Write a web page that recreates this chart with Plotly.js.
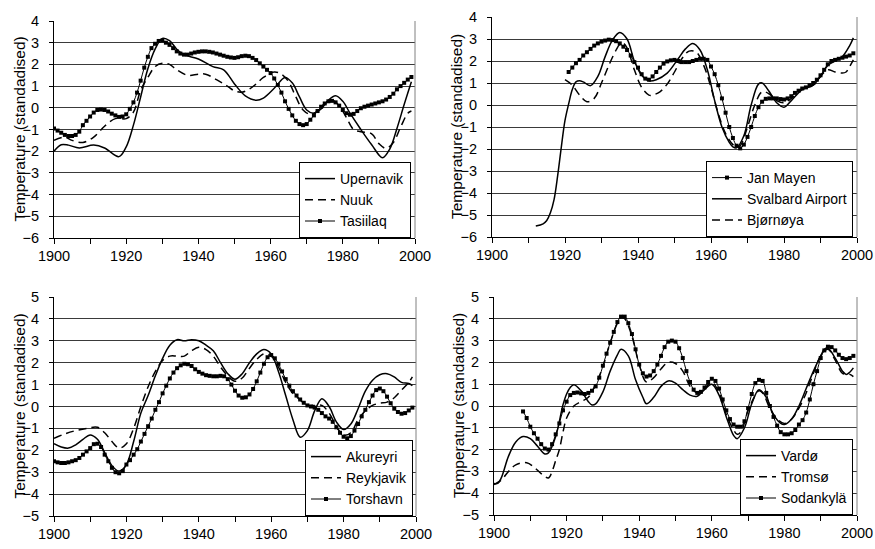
<!DOCTYPE html>
<html>
<head>
<meta charset="utf-8">
<script src="https://cdn.plot.ly/plotly-3.0.1.min.js"></script>
<style>html,body{margin:0;padding:0;background:#fff;}#chart{width:875px;height:549px;}</style>
</head>
<body>
<div id="chart"></div>
<script>
// ---------- Panel 1: Greenland ----------
const upernavikYears = [1900,1902,1904,1907,1911,1914,1918,1920,1922,1924,1926,1928,1930,1932,1934,1936,1940,1944,1947,1950,1953,1956,1958,1961,1964,1966,1968,1970,1972,1974,1976,1978,1980,1982,1985,1988,1991,1993,1995,1997,1999];
const upernavikVals  = [-2.0,-1.7,-1.72,-1.85,-1.72,-1.85,-2.25,-1.8,-0.8,0.5,1.8,2.7,3.2,3.1,2.7,2.45,2.25,1.9,1.75,1.1,0.55,0.35,0.45,0.9,1.4,1.15,0.5,-0.1,-0.25,-0.05,0.35,0.55,0.3,-0.25,-1.0,-1.7,-2.3,-1.9,-0.95,0.15,1.2];
const nuukYears = [1900,1903,1905,1908,1911,1914,1917,1920,1922,1924,1926,1928,1930,1932,1934,1937,1940,1942,1945,1948,1950,1952,1954,1956,1958,1961,1963,1965,1967,1969,1971,1973,1975,1977,1979,1981,1983,1985,1988,1990,1992,1994,1996,1998,1999];
const nuukVals  = [-1.5,-1.35,-1.5,-1.6,-1.35,-0.85,-0.5,-0.5,-0.2,0.8,1.4,1.9,2.05,2.0,1.75,1.5,1.55,1.55,1.3,1.0,0.78,0.72,0.85,1.1,1.4,1.65,1.55,1.2,0.5,-0.1,-0.3,-0.15,0.2,0.35,0.1,-0.45,-1.0,-1.1,-1.2,-1.65,-1.87,-1.6,-0.9,-0.25,-0.15];
const tasiilaqYears = [1900,1901,1902,1903,1904,1905,1906,1907,1908,1909,1910,1911,1912,1913,1914,1915,1916,1917,1918,1919,1920,1921,1922,1923,1924,1925,1926,1927,1928,1929,1930,1931,1932,1933,1934,1935,1936,1937,1938,1939,1940,1941,1942,1943,1944,1945,1946,1947,1948,1949,1950,1951,1952,1953,1954,1955,1956,1957,1958,1959,1960,1961,1962,1963,1964,1965,1966,1967,1968,1969,1970,1971,1972,1973,1974,1975,1976,1977,1978,1979,1980,1981,1982,1983,1984,1985,1986,1987,1988,1989,1990,1991,1992,1993,1994,1995,1996,1997,1998,1999];
const tasiilaqVals  = [-0.95,-1.05,-1.15,-1.25,-1.3,-1.3,-1.25,-1.1,-0.8,-0.6,-0.4,-0.22,-0.1,-0.08,-0.1,-0.17,-0.27,-0.35,-0.42,-0.4,-0.3,-0.05,0.25,0.7,1.25,1.85,2.35,2.75,2.95,3.08,3.1,3.0,2.9,2.75,2.6,2.5,2.45,2.45,2.5,2.55,2.58,2.6,2.6,2.58,2.55,2.5,2.45,2.4,2.35,2.32,2.3,2.33,2.38,2.4,2.38,2.3,2.2,2.05,1.9,1.75,1.6,1.35,1.05,0.7,0.3,-0.05,-0.35,-0.6,-0.75,-0.8,-0.75,-0.55,-0.35,-0.15,0.05,0.2,0.3,0.32,0.25,0.1,-0.1,-0.25,-0.32,-0.28,-0.15,-0.02,0.05,0.1,0.15,0.2,0.25,0.3,0.38,0.5,0.65,0.85,1.0,1.15,1.3,1.42];

// ---------- Panel 2: Jan Mayen / Svalbard ----------
const janMayenYears = [1921,1922,1923,1924,1925,1926,1927,1928,1929,1930,1931,1932,1933,1934,1935,1936,1937,1938,1939,1940,1941,1942,1943,1944,1945,1946,1947,1948,1949,1950,1951,1952,1953,1954,1955,1956,1957,1958,1959,1960,1961,1962,1963,1964,1965,1966,1967,1968,1969,1970,1971,1972,1973,1974,1975,1976,1977,1978,1979,1980,1981,1982,1983,1984,1985,1986,1987,1988,1989,1990,1991,1992,1993,1994,1995,1996,1997,1998,1999];
const janMayenVals  = [1.5,1.7,1.9,2.05,2.25,2.4,2.55,2.7,2.8,2.88,2.93,2.97,2.95,2.9,2.8,2.65,2.5,2.25,1.95,1.7,1.4,1.2,1.15,1.3,1.5,1.7,1.88,1.98,2.03,2.05,2.0,1.95,1.95,1.95,2.0,2.05,2.1,2.1,2.05,1.75,1.4,0.9,0.3,-0.35,-1.0,-1.5,-1.85,-1.97,-1.8,-1.45,-1.0,-0.5,-0.1,0.15,0.28,0.3,0.3,0.3,0.27,0.25,0.3,0.4,0.55,0.65,0.75,0.8,0.9,1.0,1.15,1.35,1.6,1.85,2.0,2.05,2.1,2.15,2.2,2.25,2.35];
const svalbardYears = [1912,1914,1915,1916,1917,1918,1919,1920,1921,1922,1923,1924,1925,1927,1929,1931,1933,1935,1937,1939,1941,1943,1945,1948,1951,1953,1955,1957,1959,1961,1963,1965,1966,1967,1969,1971,1973,1974,1976,1978,1980,1982,1985,1988,1990,1992,1994,1996,1998,1999];
const svalbardVals  = [-5.5,-5.4,-5.25,-4.9,-4.3,-3.2,-1.9,-0.7,0.05,0.7,1.05,1.1,1.05,0.88,1.3,2.2,2.95,3.3,3.0,2.0,1.35,1.1,1.15,1.45,2.1,2.55,2.8,2.5,1.6,0.2,-1.0,-1.7,-1.9,-1.95,-1.4,0.0,0.95,1.0,0.6,0.1,-0.1,0.2,0.7,0.9,1.3,1.8,2.0,2.2,2.7,3.05];
const bjornoyaYears = [1920,1922,1924,1926,1928,1930,1932,1934,1935,1936,1937,1939,1941,1943,1944,1946,1948,1950,1952,1954,1956,1958,1960,1962,1964,1966,1967,1968,1970,1972,1974,1976,1978,1980,1982,1985,1988,1990,1992,1994,1996,1997,1998,1999];
const bjornoyaVals  = [1.15,0.9,0.45,0.15,0.3,1.0,1.8,2.5,2.75,2.8,2.6,1.6,0.8,0.45,0.45,0.6,0.95,1.5,2.1,2.45,2.4,1.8,0.8,-0.4,-1.3,-1.8,-1.9,-1.85,-1.0,0.0,0.6,0.5,0.2,0.1,0.3,0.75,0.9,1.3,1.6,1.5,1.45,1.5,1.75,2.05];

// ---------- Panel 3: Iceland / Faroe ----------
const akureyriYears = [1900,1902,1904,1906,1908,1910,1912,1914,1916,1918,1920,1922,1924,1926,1928,1930,1932,1934,1936,1938,1940,1942,1944,1946,1948,1950,1952,1954,1956,1958,1960,1962,1964,1966,1968,1970,1972,1974,1976,1978,1980,1982,1984,1986,1988,1990,1992,1994,1996,1998,1999];
const akureyriVals  = [-1.7,-1.85,-1.9,-1.75,-1.5,-1.3,-1.5,-2.1,-2.7,-2.95,-2.65,-1.6,-0.3,0.5,1.4,2.2,2.8,3.05,3.0,3.05,3.0,2.8,2.55,2.0,1.5,1.25,1.5,2.0,2.4,2.6,2.4,1.6,0.5,-0.6,-1.4,-1.1,-0.2,0.35,0.0,-0.7,-1.05,-0.8,-0.1,0.7,1.2,1.45,1.5,1.35,1.1,1.05,0.95];
const reykjavikYears = [1900,1903,1906,1909,1912,1914,1916,1918,1920,1922,1924,1926,1928,1930,1932,1934,1936,1938,1940,1942,1944,1946,1948,1950,1952,1954,1956,1958,1960,1962,1964,1966,1968,1970,1972,1974,1976,1978,1980,1982,1984,1986,1988,1990,1992,1994,1996,1998,1999];
const reykjavikVals  = [-1.45,-1.25,-1.1,-1.0,-0.95,-1.2,-1.6,-1.9,-1.7,-1.0,0.0,0.9,1.6,2.1,2.3,2.3,2.3,2.55,2.7,2.6,2.3,1.8,1.4,1.15,1.3,1.75,2.15,2.4,2.3,1.8,1.1,0.6,0.3,0.05,0.05,0.05,-0.3,-0.9,-1.3,-1.2,-0.6,-0.2,0.05,0.15,0.2,0.4,0.75,1.1,1.35];
const torshavnYears = [1900,1901,1902,1903,1904,1905,1906,1907,1908,1909,1910,1911,1912,1913,1914,1915,1916,1917,1918,1919,1920,1921,1922,1923,1924,1925,1926,1927,1928,1929,1930,1931,1932,1933,1934,1935,1936,1937,1938,1939,1940,1941,1942,1943,1944,1945,1946,1947,1948,1949,1950,1951,1952,1953,1954,1955,1956,1957,1958,1959,1960,1961,1962,1963,1964,1965,1966,1967,1968,1969,1970,1971,1972,1973,1974,1975,1976,1977,1978,1979,1980,1981,1982,1983,1984,1985,1986,1987,1988,1989,1990,1991,1992,1993,1994,1995,1996,1997,1998,1999];
const torshavnVals  = [-2.5,-2.55,-2.58,-2.58,-2.55,-2.5,-2.45,-2.35,-2.2,-2.05,-1.9,-1.72,-1.7,-1.85,-2.2,-2.5,-2.8,-3.0,-3.05,-2.95,-2.65,-2.45,-2.2,-1.95,-1.6,-1.25,-0.9,-0.55,-0.15,0.2,0.6,0.95,1.28,1.55,1.75,1.88,1.95,1.93,1.85,1.7,1.58,1.5,1.43,1.4,1.38,1.38,1.4,1.38,1.25,1.0,0.72,0.5,0.4,0.42,0.55,0.8,1.15,1.55,1.95,2.25,2.35,2.2,1.95,1.6,1.25,0.95,0.7,0.5,0.32,0.17,0.05,0.0,-0.05,-0.15,-0.3,-0.45,-0.55,-0.7,-0.95,-1.2,-1.38,-1.45,-1.35,-1.1,-0.8,-0.45,-0.15,0.2,0.5,0.75,0.82,0.7,0.45,0.15,-0.1,-0.25,-0.33,-0.3,-0.18,-0.05];

// ---------- Panel 4: Norway / Finland ----------
const vardoYears = [1900,1901,1902,1904,1906,1908,1910,1912,1914,1915,1917,1919,1920,1921,1922,1924,1926,1927,1928,1930,1932,1934,1935,1937,1939,1941,1942,1944,1946,1948,1950,1952,1954,1956,1958,1960,1962,1964,1966,1967,1969,1971,1973,1975,1977,1979,1980,1982,1984,1986,1988,1990,1991,1992,1994,1996,1997,1998,1999];
const vardoVals  = [-3.55,-3.55,-3.3,-2.3,-1.65,-1.4,-1.5,-1.85,-2.2,-2.15,-1.4,0.05,0.55,0.85,0.98,0.7,0.2,0.05,0.1,0.65,1.6,2.35,2.6,2.3,1.2,0.4,0.1,0.4,0.9,1.15,1.05,0.75,0.5,0.45,0.75,1.0,0.5,-0.5,-1.35,-1.5,-1.0,0.1,0.75,0.4,-0.4,-0.8,-0.85,-0.6,0.0,0.8,1.6,2.3,2.6,2.65,2.2,1.6,1.45,1.55,1.75];
const tromsoYears = [1900,1902,1904,1906,1909,1911,1913,1915,1916,1917,1918,1919,1920,1922,1924,1926,1928,1930,1932,1934,1935,1936,1938,1940,1942,1944,1946,1948,1950,1952,1954,1956,1958,1960,1962,1964,1966,1967,1968,1970,1972,1973,1974,1976,1978,1980,1982,1984,1986,1988,1990,1992,1994,1996,1998,1999];
const tromsoVals  = [-3.6,-3.4,-3.0,-2.7,-2.6,-2.8,-3.1,-3.3,-3.0,-2.5,-2.0,-1.2,-0.55,0.0,0.2,0.4,1.0,1.8,2.9,3.8,4.05,4.0,3.2,1.9,1.1,1.3,1.7,2.0,1.95,1.6,0.9,0.6,0.8,1.1,0.6,-0.4,-1.1,-1.3,-1.2,-0.2,0.5,0.7,0.6,-0.1,-0.6,-0.8,-0.6,-0.1,0.6,1.5,2.3,2.6,2.1,1.5,1.45,1.35];
const sodankylaYears = [1908,1909,1910,1911,1912,1913,1914,1915,1916,1917,1918,1919,1920,1921,1922,1923,1924,1925,1926,1927,1928,1929,1930,1931,1932,1933,1934,1935,1936,1937,1938,1939,1940,1941,1942,1943,1944,1945,1946,1947,1948,1949,1950,1951,1952,1953,1954,1955,1956,1957,1958,1959,1960,1961,1962,1963,1964,1965,1966,1967,1968,1969,1970,1971,1972,1973,1974,1975,1976,1977,1978,1979,1980,1981,1982,1983,1984,1985,1986,1987,1988,1989,1990,1991,1992,1993,1994,1995,1996,1997,1998,1999];
const sodankylaVals  = [-0.25,-0.55,-0.95,-1.25,-1.5,-1.75,-1.95,-2.0,-1.75,-1.3,-0.8,-0.2,0.2,0.5,0.6,0.62,0.58,0.55,0.6,0.7,0.9,1.3,1.85,2.4,2.9,3.4,3.85,4.1,4.1,3.8,3.3,2.6,1.9,1.5,1.35,1.4,1.6,1.9,2.3,2.7,2.95,3.0,2.95,2.65,2.2,1.6,1.1,0.75,0.6,0.65,0.85,1.1,1.25,1.15,0.8,0.3,-0.2,-0.6,-0.85,-0.95,-0.95,-0.7,-0.1,0.55,1.05,1.2,1.15,0.6,0.0,-0.5,-0.9,-1.2,-1.3,-1.3,-1.25,-1.1,-0.85,-0.65,-0.3,0.3,1.0,1.6,2.2,2.55,2.72,2.7,2.55,2.35,2.2,2.15,2.2,2.3];

const yTitle = 'Temperature (standadised)';
const FONT = 'Liberation Sans, Arial, sans-serif';

function solid(x, y, name, xa, ya, lg) {
  return {x, y, name, xaxis: xa, yaxis: ya, legend: lg, type: 'scatter', mode: 'lines',
          line: {color: '#000', width: 1.5, shape: 'spline', smoothing: 1}};
}
function dashed(x, y, name, xa, ya, lg) {
  return {x, y, name, xaxis: xa, yaxis: ya, legend: lg, type: 'scatter', mode: 'lines',
          line: {color: '#000', width: 1.5, dash: '8px,5px', shape: 'spline', smoothing: 1}};
}
function marked(x, y, name, xa, ya, lg) {
  return {x, y, name, xaxis: xa, yaxis: ya, legend: lg, type: 'scatter', mode: 'lines+markers',
          line: {color: '#000', width: 1, shape: 'spline', smoothing: 1},
          marker: {symbol: 'square', size: 4, color: '#000'}};
}

const data = [
  solid(upernavikYears, upernavikVals, 'Upernavik', 'x', 'y', 'legend'),
  dashed(nuukYears, nuukVals, 'Nuuk', 'x', 'y', 'legend'),
  marked(tasiilaqYears, tasiilaqVals, 'Tasiilaq', 'x', 'y', 'legend'),
  marked(janMayenYears, janMayenVals, 'Jan Mayen', 'x2', 'y2', 'legend2'),
  solid(svalbardYears, svalbardVals, 'Svalbard Airport', 'x2', 'y2', 'legend2'),
  dashed(bjornoyaYears, bjornoyaVals, 'Bjørnøya', 'x2', 'y2', 'legend2'),
  solid(akureyriYears, akureyriVals, 'Akureyri', 'x3', 'y3', 'legend3'),
  dashed(reykjavikYears, reykjavikVals, 'Reykjavik', 'x3', 'y3', 'legend3'),
  marked(torshavnYears, torshavnVals, 'Torshavn', 'x3', 'y3', 'legend3'),
  solid(vardoYears, vardoVals, 'Vardø', 'x4', 'y4', 'legend4'),
  dashed(tromsoYears, tromsoVals, 'Tromsø', 'x4', 'y4', 'legend4'),
  marked(sodankylaYears, sodankylaVals, 'Sodankylä', 'x4', 'y4', 'legend4')
];

const W = 875, H = 549;
function xAxis(l, r, anchor) {
  return {domain: [l / W, r / W], range: [1900, 2000], anchor,
          tick0: 1900, dtick: 20, ticks: 'outside', ticklen: 5, tickcolor: '#000', tickwidth: 1,
          minor: {dtick: 10, ticks: 'outside', ticklen: 5, tickcolor: '#000', showgrid: false},
          showline: true, linecolor: '#000', linewidth: 1, showgrid: false, zeroline: false,
          tickfont: {family: FONT, size: 14.5, color: '#000'}, ticklabelstandoff: 0, fixedrange: true};
}
function yAxis(top, bottom, range, anchor) {
  return {domain: [1 - bottom / H, 1 - top / H], range, anchor, dtick: 1,
          ticks: 'outside', ticklen: 4, tickcolor: '#000',
          showline: true, linecolor: '#000', linewidth: 1,
          showgrid: true, gridcolor: '#3a3a3a', gridwidth: 1, zeroline: false,
          tickfont: {family: FONT, size: 14.5, color: '#000'}, ticklabelstandoff: 7,
          fixedrange: true};
}
function legendAt(right, bottom) {
  return {x: right / W, y: 1 - bottom / H, xanchor: 'right', yanchor: 'bottom',
          bgcolor: '#fff', bordercolor: '#000', borderwidth: 1, itemwidth: 30,
          tracegroupgap: 0, traceorder: 'normal',
          font: {family: FONT, size: 14, color: '#000'}};
}
function rightBorder(xa, ya) {
  return {type: 'line', xref: xa + ' domain', yref: ya + ' domain', x0: 1, x1: 1, y0: 0, y1: 1,
          line: {color: '#808080', width: 1}};
}
function yTitleAnn(xPx, yaName) {
  return {text: yTitle, xref: 'paper', yref: yaName + ' domain', x: xPx / W, y: 0.5,
          xanchor: 'center', yanchor: 'middle', textangle: -90, showarrow: false,
          font: {family: FONT, size: 15.5, color: '#000'}};
}

const layout = {
  width: W, height: H, margin: {l: 0, r: 0, t: 0, b: 0},
  paper_bgcolor: '#fff', plot_bgcolor: '#fff', showlegend: true,
  font: {family: FONT, color: '#000'},
  xaxis: xAxis(54, 415, 'y'),
  yaxis: yAxis(21, 238, [-6, 4], 'x'),
  xaxis2: xAxis(492, 857, 'y2'),
  yaxis2: yAxis(17, 237, [-6, 4], 'x2'),
  xaxis3: xAxis(54, 416, 'y3'),
  yaxis3: yAxis(297, 516, [-5, 5], 'x3'),
  xaxis4: xAxis(494, 857, 'y4'),
  yaxis4: yAxis(297, 515, [-5, 5], 'x4'),
  legend: legendAt(411, 238),
  legend2: legendAt(853, 237),
  legend3: legendAt(413, 516),
  legend4: legendAt(853, 515),
  annotations: [yTitleAnn(19, 'y'), yTitleAnn(456, 'y2'), yTitleAnn(19, 'y3'), yTitleAnn(458, 'y4')],
  shapes: [rightBorder('x', 'y'), rightBorder('x2', 'y2'), rightBorder('x3', 'y3'), rightBorder('x4', 'y4')]
};

Plotly.newPlot('chart', data, layout, {displayModeBar: false, staticPlot: true});
</script>
</body>
</html>
